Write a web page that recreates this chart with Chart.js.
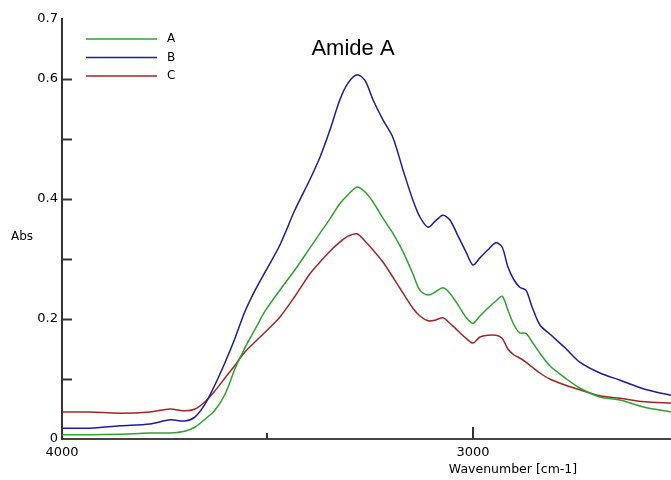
<!DOCTYPE html>
<html>
<head>
<meta charset="utf-8">
<script src="https://cdn.jsdelivr.net/npm/chart.js@4.4.1/dist/chart.umd.min.js"></script>
<style>
  html, body { margin: 0; padding: 0; background: #fff; }
  #wrap { width: 671px; height: 480px; }
</style>
</head>
<body>
<div id="wrap"><canvas id="irChart" width="671" height="480"></canvas></div>
<script>
// ---- data ----
const wavenumbers = [4000,3932,3859,3786,3737,3701,3676,3652,3628,3603,
  3579,3555,3530,3506,3470,3433,3397,3372,3348,3324,
  3304,3282,3263,3243,3219,3195,3170,3146,3129,3109,
  3092,3073,3056,3036,3017,3000,2983,2964,2944,2929,
  2915,2900,2886,2871,2856,2837,2813,2776,2740,2691,
  2642,2582,2518];
const absA = [0.007,0.007,0.008,0.010,0.010,0.013,0.020,0.033,0.048,0.075,
  0.117,0.152,0.183,0.213,0.248,0.282,0.318,0.343,0.367,0.392,
  0.407,0.420,0.412,0.395,0.368,0.343,0.312,0.275,0.248,0.240,
  0.245,0.252,0.243,0.223,0.203,0.193,0.205,0.218,0.230,0.238,
  0.215,0.190,0.177,0.176,0.162,0.143,0.122,0.102,0.085,0.070,
  0.065,0.053,0.045];
const absB = [0.018,0.018,0.022,0.025,0.032,0.030,0.037,0.058,0.090,0.128,
  0.168,0.212,0.248,0.278,0.323,0.382,0.432,0.470,0.515,0.565,
  0.593,0.607,0.598,0.565,0.532,0.503,0.448,0.398,0.370,0.353,
  0.363,0.373,0.365,0.338,0.312,0.290,0.302,0.315,0.327,0.320,
  0.287,0.265,0.253,0.248,0.220,0.190,0.175,0.152,0.128,0.110,
  0.098,0.083,0.073];
const absC = [0.045,0.045,0.043,0.045,0.050,0.047,0.050,0.062,0.080,0.102,
  0.123,0.145,0.162,0.178,0.203,0.238,0.275,0.295,0.313,0.328,
  0.338,0.342,0.330,0.315,0.295,0.270,0.243,0.218,0.205,0.197,
  0.198,0.202,0.193,0.180,0.168,0.160,0.170,0.173,0.173,0.168,
  0.150,0.140,0.135,0.128,0.120,0.110,0.100,0.090,0.082,0.072,
  0.068,0.062,0.060];
const seriesNames = ['A', 'B', 'C'];
const seriesColors = ['#30a030', '#1c1ca0', '#a02626'];
const xTicks = [4000, 3500, 3000];
const yTicks = [0, 0.1, 0.2, 0.3, 0.4, 0.5, 0.6, 0.7];
const yLabels = ['0', '', '0.2', '', '0.4', '', '0.6', '0.7'];

const FONT = 'DejaVu Sans, Verdana, sans-serif';

const toPoints = arr => wavenumbers.map((w, i) => ({ x: w, y: arr[i] }));

// inside tick marks, legend and free texts
const decorations = {
  id: 'decorations',
  afterDraw(chart) {
    const ctx = chart.ctx;
    const xs = chart.scales.x, ys = chart.scales.y;
    const area = chart.chartArea;
    ctx.save();
    ctx.strokeStyle = '#333';
    ctx.lineWidth = 2;
    yTicks.forEach(v => {
      if (v === 0 || v === 0.7) return;
      const py = Math.round(ys.getPixelForValue(v)) + 0.5;
      ctx.beginPath(); ctx.moveTo(area.left, py); ctx.lineTo(area.left + 10, py); ctx.stroke();
    });
    xTicks.forEach(v => {
      if (v === 4000) return;
      const px = Math.round(xs.getPixelForValue(v));
      const len = v % 1000 === 0 ? 12 : 6;
      ctx.beginPath(); ctx.moveTo(px, area.bottom); ctx.lineTo(px, area.bottom - len); ctx.stroke();
    });

    // legend
    ctx.font = '12px ' + FONT;
    ctx.textBaseline = 'middle';
    ctx.textAlign = 'left';
    chart.data.datasets.forEach((ds, i) => {
      const y = 39 + i * 18.5;
      ctx.strokeStyle = ds.borderColor;
      ctx.lineWidth = 1.5;
      ctx.beginPath(); ctx.moveTo(86, y); ctx.lineTo(157, y); ctx.stroke();
      ctx.fillStyle = '#000';
      ctx.fillText(ds.label, 167, y);
    });

    ctx.fillStyle = '#000';
    ctx.fillText('Abs', 11, 237);
    ctx.textAlign = 'center';
    ctx.font = '12.5px ' + FONT;
    ctx.fillText('Wavenumber [cm-1]', 513, 470);
    ctx.font = '22px Liberation Sans, Arial, sans-serif';
    ctx.fillText('Amide A', 353, 49);
    ctx.restore();
  }
};

new Chart(document.getElementById('irChart'), {
  type: 'line',
  data: {
    datasets: [absA, absB, absC].map((arr, i) => ({
      label: seriesNames[i],
      data: toPoints(arr),
      borderColor: seriesColors[i],
      borderWidth: 1.5,
      pointRadius: 0,
      tension: 0.3,
      fill: false
    }))
  },
  options: {
    responsive: false,
    animation: false,
    devicePixelRatio: 1,
    layout: { padding: { top: 19, left: 0, right: 0, bottom: 0 } },
    plugins: { legend: { display: false }, tooltip: { enabled: false }, title: { display: false } },
    scales: {
      x: {
        type: 'linear',
        reverse: true,
        min: 2518,
        max: 4000,
        afterBuildTicks: s => { s.ticks = xTicks.map(v => ({ value: v })); },
        afterFit: s => { s.height = 41; },
        ticks: {
          autoSkip: false, maxRotation: 0, padding: 6, color: '#000',
          font: { family: FONT, size: 13 },
          callback: v => (v % 1000 === 0 ? String(v) : '')
        },
        grid: { drawOnChartArea: false, drawTicks: false },
        border: { color: '#444', width: 2 }
      },
      y: {
        min: 0,
        max: 0.7,
        afterBuildTicks: s => { s.ticks = yTicks.map(v => ({ value: v })); },
        afterFit: s => { s.width = 62; },
        ticks: {
          padding: 4, color: '#000',
          font: { family: FONT, size: 13 },
          callback: (v, i) => yLabels[i]
        },
        grid: { drawOnChartArea: false, drawTicks: false },
        border: { color: '#333', width: 2 }
      }
    }
  },
  plugins: [decorations]
});
</script>
</body>
</html>
